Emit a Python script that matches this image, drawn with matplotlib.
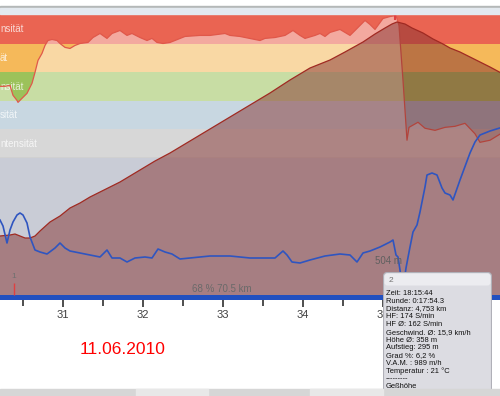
import matplotlib
matplotlib.use('Agg')
import matplotlib.pyplot as plt
from matplotlib.patches import Rectangle, FancyBboxPatch

plt.rcParams['font.family'] = ['Liberation Sans', 'DejaVu Sans']

# heart rate zones (bpm) and colours
zone_edges = [95, 114, 133, 152, 171, 191]
zone_colors = ['#b8b8b8', '#9bb8ca', '#9cc25a', '#f5b95a', '#ea6452']
zone_labels = ['ntensität', 'sität', 'nsität', 'ät', 'nsität']

# heart rate
hr_km = [30.2125, 30.275, 30.3375, 30.375, 30.425, 30.4375, 30.4875, 30.55, 30.6125, 30.65,
         30.6875, 30.7375, 30.775, 30.8125, 30.8625, 30.925, 30.9625, 31.025, 31.0875, 31.15,
         31.2125, 31.3125, 31.375, 31.4625, 31.55, 31.6125, 31.7125, 31.8, 31.8625, 31.9625,
         32.05, 32.1125, 32.175, 32.25, 32.3375, 32.525, 32.7125, 32.8375, 33.025, 33.0875,
         33.2125, 33.4625, 33.525, 33.65, 33.775, 33.875, 33.9625, 34.025, 34.15, 34.2125,
         34.275, 34.3375, 34.4625, 34.5875, 34.65, 34.775, 34.8375, 34.9, 35.0, 35.0875,
         35.1625, 35.2, 35.25, 35.3, 35.325, 35.4375, 35.525, 35.65, 35.775, 35.9,
         36.025, 36.15, 36.2125, 36.3375, 36.5]
hr = [142.7, 142.7, 143.3, 136.7, 133.3, 132, 134.7, 138, 144.7, 152,
      160, 164.7, 170, 173.3, 174, 173.3, 171.3, 168.7, 168, 170,
      171.3, 172, 175.3, 178, 174.7, 178, 180, 176.7, 178, 175.3,
      173.3, 174.7, 172, 171.3, 172, 176, 176.7, 176.7, 178, 176.7,
      176, 173.3, 174.7, 175.3, 176.7, 180, 176.7, 174.7, 176.7, 178,
      176, 178.7, 180.7, 176.7, 180, 186.7, 184, 180.7, 188, 189.3,
      190, 183.3, 146.7, 106.7, 115.3, 118.7, 114.7, 113.3, 115.3, 116,
      118, 111, 105.3, 106.7, 112]

# elevation (m)
ele_km = [30.2125, 30.3375, 30.4, 30.4625, 30.525, 30.5875, 30.65, 30.7125, 30.8375, 30.9625,
          31.0875, 31.2125, 31.3375, 31.4625, 31.5875, 31.7125, 31.8375, 31.9625, 32.15, 32.3375,
          32.525, 32.7125, 32.9, 33.0875, 33.3375, 33.5875, 33.8375, 34.0875, 34.3375, 34.525,
          34.75, 34.9, 35.025, 35.1125, 35.175, 35.275, 35.3625, 35.5, 35.625, 35.75,
          35.8375, 35.9625, 36.0875, 36.2125, 36.3375, 36.5]
ele = [290, 291, 292, 290, 288, 288, 290, 295, 304, 310,
       318, 323, 329, 334, 339, 344, 350, 356, 365, 373,
       382, 391, 400, 409, 421, 433, 446, 458, 466, 474,
       484, 492, 498, 502, 504, 502, 498, 493, 487, 482,
       478, 474, 469, 464, 459, 452]

# speed (km/h)
spd_km = [30.2125, 30.25, 30.3, 30.3375, 30.375, 30.425, 30.4625, 30.5, 30.55, 30.5875,
          30.65, 30.7125, 30.8, 30.9, 30.9625, 31.025, 31.0875, 31.2125, 31.3375, 31.4625,
          31.55, 31.6125, 31.7125, 31.8, 31.9, 32.025, 32.1125, 32.1875, 32.275, 32.3625,
          32.4625, 32.5875, 32.7125, 32.8375, 33.0, 33.0875, 33.2125, 33.3375, 33.4625, 33.65,
          33.75, 33.8, 33.8625, 33.9625, 34.0875, 34.275, 34.4625, 34.5875, 34.675, 34.75,
          34.8375, 34.9625, 35.0875, 35.125, 35.1625, 35.1875, 35.2125, 35.25, 35.2875, 35.3375,
          35.375, 35.425, 35.4625, 35.525, 35.55, 35.6125, 35.675, 35.7375, 35.775, 35.8375,
          35.875, 35.9625, 36.0875, 36.15, 36.2125, 36.3375, 36.5]
spd = [16, 14.8, 11.4, 14, 15.6, 17, 17.4, 17, 15.4, 12.6,
       10, 9.6, 9.2, 10.4, 11.4, 10.4, 9.8, 9.4, 9, 8.6,
       10, 8.4, 8.4, 7.6, 8.4, 8.6, 8.4, 10.2, 9.6, 9.2,
       8.2, 8.4, 8.6, 8.8, 8.8, 8.8, 8.6, 8.4, 8.4, 8.4,
       9.8, 9, 7.6, 7.4, 8, 8.8, 9.2, 9, 7.6, 9.4,
       9.8, 10.6, 11.6, 12, 9, 8.6, 6, 2, 6.4, 10.6,
       13.6, 15, 17.6, 22.6, 25, 25.4, 25, 22.4, 21.4, 21,
       20, 24, 29.4, 31.6, 33, 33.8, 34.6]

tick_km = [31, 32, 33, 34, 35]
tooltip_lines = ['Zeit: 18:15:44', 'Runde: 0:17:54.3', 'Distanz: 4,753 km', 'HF: 174 S/min',
                 'HF Ø: 162 S/min', 'Geschwind. Ø: 15,9 km/h', 'Höhe Ø: 358 m',
                 'Aufstieg: 295 m', 'Grad %: 6,2 %', 'V.A.M. : 989 m/h',
                 'Temperatur : 21 °C', '---------', 'Geßhöhe']

W, H = 500, 396
fig = plt.figure(figsize=(5, 3.96), dpi=100)

def frac(x0, y0, x1, y1):
    # pixel box (top-left origin) -> figure fraction rect
    return [x0 / W, 1 - y1 / H, (x1 - x0) / W, (y1 - y0) / H]

# window chrome
fig.patches.append(Rectangle((0, 1 - 8 / H), 1, 2 / H, transform=fig.transFigure, color='#b4b8b8'))
fig.patches.append(Rectangle((0, 1 - 14 / H), 1, 6 / H, transform=fig.transFigure, color='#e3e9ef'))
fig.patches.append(Rectangle((0, 0), 1, 7 / H, transform=fig.transFigure, color='#d6d6d6'))
for x0, x1 in [(136, 208), (310, 383)]:
    fig.patches.append(Rectangle((x0 / W, 0), (x1 - x0) / W, 7 / H,
                                 transform=fig.transFigure, color='#e8e8e8'))

ax = fig.add_axes(frac(-4, 14, 504, 300))
ax.set_xlim(30.1625, 36.5125)
ax.set_ylim(0, 191)
for i, c in enumerate(zone_colors):
    ax.axhspan(zone_edges[i], zone_edges[i + 1], color=c, lw=0, zorder=0)
    ax.text(0.008, (zone_edges[i] + zone_edges[i + 1]) / 2, zone_labels[i],
            transform=ax.get_yaxis_transform(), color='white', alpha=0.75,
            fontsize=7, va='center', ha='left', zorder=1)
ax.axhspan(0, zone_edges[0], color='#c9ccd6', lw=0, zorder=0)
ax.fill_between(hr_km, zone_edges[0], hr, color='white', alpha=0.45, lw=0, zorder=2)
ax.plot(hr_km, hr, color='#e0584a', lw=0.9, zorder=3)
ax.set_yticks([])
for s in ax.spines.values():
    s.set_visible(False)
ax.set_xticks(tick_km)
ax.set_xticks([30.5, 31.5, 32.5, 33.5, 34.5, 35.5, 36.5], minor=True)
ax.tick_params(axis='x', which='major', length=5, width=1.2, color='#303030',
               labelsize=8, labelcolor='#404040', pad=2)
ax.tick_params(axis='x', which='minor', length=4, width=1.2, color='#303030')

ax2 = ax.twinx()
ax2.set_ylim(226, 512)
ax2.fill_between(ele_km, 226, ele, color='#853230', alpha=0.5, lw=0)
ax2.plot(ele_km, ele, color='#a02a22', lw=0.9)
ax2.set_yticks([])
for s in ax2.spines.values():
    s.set_visible(False)

ax3 = ax.twinx()
ax3.set_ylim(0, 57.2)
ax3.plot(spd_km, spd, color='#2f55c0', lw=1.2)
ax3.axhspan(0, 1, color='#2150c0', lw=0)
ax3.vlines(30.3875, 1, 3.4, color='#e04040', lw=1)
ax3.vlines(35.15, 55.9, 57.2, color='#e04040', lw=1.5)
ax3.text(30.3875, 4.8, '1', color='#707070', fontsize=6, ha='center', va='center')
ax3.text(32.99, 2.2, '68 % 70.5 km', color='#6a6a6a', fontsize=7, ha='center', va='center')
ax3.text(34.9, 7.8, '504 m', color='#606060', fontsize=7, ha='left', va='center')
ax3.set_yticks([])
for s in ax3.spines.values():
    s.set_visible(False)

fig.text(123 / W, 1 - 349 / H, '11.06.2010', color='#ff0000', fontsize=12.5,
         ha='center', va='center')

# tooltip
tip = fig.add_axes(frac(383, 272, 492, 396))
tip.set_xlim(0, 109)
tip.set_ylim(124, 0)
tip.axis('off')
tip.add_patch(FancyBboxPatch((0.5, 0.5), 108, 140, boxstyle='round,pad=0,rounding_size=4',
                             fc='#dcdce2', ec='#b0b0b8', lw=0.8))
tip.add_patch(FancyBboxPatch((1.5, 1.5), 106, 12, boxstyle='round,pad=0,rounding_size=3',
                             fc='#ececf0', ec='none'))
tip.text(8, 8, '2', fontsize=6, color='#707070', ha='center', va='center')
for i, line in enumerate(tooltip_lines):
    tip.text(3, 21.3 + i * 7.8, line, fontsize=5.4, color='#101010', va='center', ha='left')

fig.savefig('out.png', dpi=100)
